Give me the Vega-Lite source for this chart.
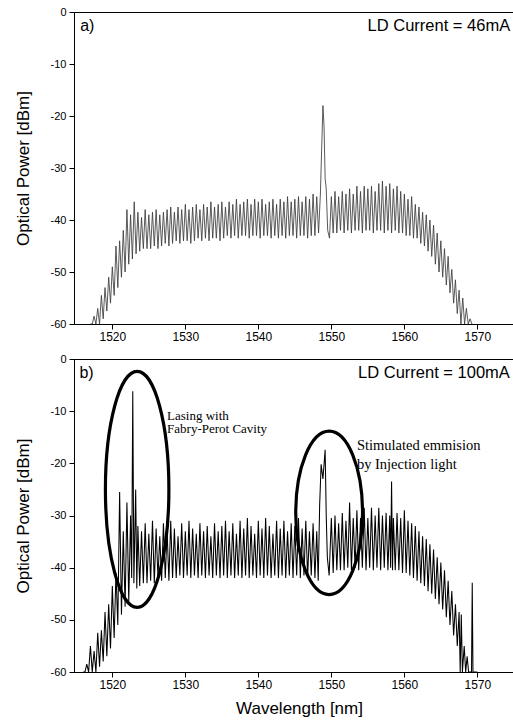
{
"$schema": "https://vega.github.io/schema/vega-lite/v6.json",
"padding": {"left": 13, "top": 5, "right": 0, "bottom": 0},
"spacing": 9,
"config": {
 "view": {"stroke": "black", "strokeWidth": 1},
 "axis": {"grid": false, "domainColor": "black", "tickColor": "black", "labelColor": "black", "titleColor": "black", "labelFont": "Liberation Sans", "titleFont": "Liberation Sans", "titleFontWeight": "normal", "titleFontSize": 17, "tickSize": 5, "domainWidth": 1}
},
"datasets": {
 "a": [
{"x":1517.0,"y":-60},{"x":1517.25,"y":-60},{"x":1517.5,"y":-58.5},{"x":1517.75,"y":-60},{"x":1518.0,"y":-57},{"x":1518.25,"y":-60},{"x":1518.5,"y":-54.5},{"x":1518.75,"y":-59},{"x":1519.0,"y":-53},{"x":1519.25,"y":-57.5},{"x":1519.5,"y":-51},{"x":1519.75,"y":-56},{"x":1520.0,"y":-49},{"x":1520.25,"y":-54.5},{"x":1520.5,"y":-45},{"x":1520.75,"y":-53},{"x":1521.0,"y":-44},{"x":1521.25,"y":-51},{"x":1521.5,"y":-42},{"x":1521.75,"y":-50},{"x":1522.0,"y":-38},{"x":1522.25,"y":-48.5},{"x":1522.5,"y":-39},{"x":1522.75,"y":-47.5},{"x":1523.0,"y":-36.5},{"x":1523.25,"y":-46.5},{"x":1523.5,"y":-38.5},{"x":1523.75,"y":-46},
{"x":1524.0,"y":-39.5},{"x":1524.25,"y":-45.5},{"x":1524.5,"y":-38},{"x":1524.75,"y":-45.5},{"x":1525.0,"y":-39},{"x":1525.25,"y":-45.5},{"x":1525.5,"y":-38.5},{"x":1525.75,"y":-45},{"x":1526.0,"y":-38},{"x":1526.25,"y":-45.5},{"x":1526.5,"y":-39},{"x":1526.75,"y":-45},{"x":1527.0,"y":-38.5},{"x":1527.25,"y":-44.5},{"x":1527.5,"y":-38},{"x":1527.75,"y":-45},{"x":1528.0,"y":-37.5},{"x":1528.25,"y":-44.5},{"x":1528.5,"y":-38.5},{"x":1528.75,"y":-44},{"x":1529.0,"y":-37.5},{"x":1529.25,"y":-44.5},{"x":1529.5,"y":-38},{"x":1529.75,"y":-44},
{"x":1530.0,"y":-37},{"x":1530.25,"y":-44},{"x":1530.5,"y":-38},{"x":1530.75,"y":-44.5},{"x":1531.0,"y":-37.5},{"x":1531.25,"y":-44},{"x":1531.5,"y":-37},{"x":1531.75,"y":-43.5},{"x":1532.0,"y":-38},{"x":1532.25,"y":-44},{"x":1532.5,"y":-37},{"x":1532.75,"y":-43.5},{"x":1533.0,"y":-37.5},{"x":1533.25,"y":-44},{"x":1533.5,"y":-36.5},{"x":1533.75,"y":-43.5},{"x":1534.0,"y":-37.5},{"x":1534.25,"y":-43.5},{"x":1534.5,"y":-37},{"x":1534.75,"y":-44},{"x":1535.0,"y":-36.5},{"x":1535.25,"y":-43.5},{"x":1535.5,"y":-37.5},{"x":1535.75,"y":-43},{"x":1536.0,"y":-36.5},{"x":1536.25,"y":-43.5},{"x":1536.5,"y":-37},{"x":1536.75,"y":-43},{"x":1537.0,"y":-36},{"x":1537.25,"y":-43.5},{"x":1537.5,"y":-37},{"x":1537.75,"y":-43},{"x":1538.0,"y":-36.5},{"x":1538.25,"y":-43},{"x":1538.5,"y":-36},{"x":1538.75,"y":-43.5},{"x":1539.0,"y":-37},{"x":1539.25,"y":-43},{"x":1539.5,"y":-36},{"x":1539.75,"y":-43},
{"x":1540.0,"y":-36.5},{"x":1540.25,"y":-43.5},{"x":1540.5,"y":-36},{"x":1540.75,"y":-43},{"x":1541.0,"y":-37},{"x":1541.25,"y":-43},{"x":1541.5,"y":-36.5},{"x":1541.75,"y":-43.5},{"x":1542.0,"y":-36},{"x":1542.25,"y":-43},{"x":1542.5,"y":-37},{"x":1542.75,"y":-43.5},{"x":1543.0,"y":-36},{"x":1543.25,"y":-43},{"x":1543.5,"y":-36.5},{"x":1543.75,"y":-43.5},{"x":1544.0,"y":-35.5},{"x":1544.25,"y":-43},{"x":1544.5,"y":-36.5},{"x":1544.75,"y":-43},{"x":1545.0,"y":-36},{"x":1545.25,"y":-43.5},{"x":1545.5,"y":-35.5},{"x":1545.75,"y":-43},{"x":1546.0,"y":-36.5},{"x":1546.25,"y":-43},{"x":1546.5,"y":-35.5},{"x":1546.75,"y":-43.5},{"x":1547.0,"y":-36},{"x":1547.25,"y":-43},{"x":1547.5,"y":-35},{"x":1547.75,"y":-43},{"x":1548.0,"y":-35.5},{"x":1548.25,"y":-42.5},
{"x":1548.5,"y":-35},{"x":1548.7,"y":-25},{"x":1548.85,"y":-18},{"x":1549.0,"y":-22},{"x":1549.15,"y":-32},{"x":1549.3,"y":-34},{"x":1549.5,"y":-42},{"x":1549.75,"y":-43.5},
{"x":1550.0,"y":-35.5},{"x":1550.25,"y":-42.5},{"x":1550.5,"y":-34.5},{"x":1550.75,"y":-42.5},{"x":1551.0,"y":-35.5},{"x":1551.25,"y":-42},{"x":1551.5,"y":-34.5},{"x":1551.75,"y":-42.5},{"x":1552.0,"y":-35},{"x":1552.25,"y":-42},{"x":1552.5,"y":-34},{"x":1552.75,"y":-42.5},{"x":1553.0,"y":-35},{"x":1553.25,"y":-42},{"x":1553.5,"y":-33.5},{"x":1553.75,"y":-42},{"x":1554.0,"y":-34.5},{"x":1554.25,"y":-42.5},{"x":1554.5,"y":-33.5},{"x":1554.75,"y":-42},{"x":1555.0,"y":-34},{"x":1555.25,"y":-42},{"x":1555.5,"y":-33.5},{"x":1555.75,"y":-42.5},{"x":1556.0,"y":-34.5},{"x":1556.25,"y":-42},{"x":1556.5,"y":-33},{"x":1556.75,"y":-42},{"x":1557.0,"y":-32.5},{"x":1557.25,"y":-42.5},{"x":1557.5,"y":-33.5},{"x":1557.75,"y":-42},{"x":1558.0,"y":-33},{"x":1558.25,"y":-42.5},{"x":1558.5,"y":-34},{"x":1558.75,"y":-42},{"x":1559.0,"y":-33.5},{"x":1559.25,"y":-42.5},{"x":1559.5,"y":-34.5},{"x":1559.75,"y":-42.5},
{"x":1560.0,"y":-35},{"x":1560.25,"y":-43},{"x":1560.5,"y":-36},{"x":1560.75,"y":-43},{"x":1561.0,"y":-35.5},{"x":1561.25,"y":-43.5},{"x":1561.5,"y":-37},{"x":1561.75,"y":-43.5},{"x":1562.0,"y":-37.5},{"x":1562.25,"y":-44.5},{"x":1562.5,"y":-38.5},{"x":1562.75,"y":-45},{"x":1563.0,"y":-39},{"x":1563.25,"y":-46},{"x":1563.5,"y":-40},{"x":1563.75,"y":-47},{"x":1564.0,"y":-41},{"x":1564.25,"y":-48.5},{"x":1564.5,"y":-42.5},{"x":1564.75,"y":-50},{"x":1565.0,"y":-44},{"x":1565.25,"y":-51},{"x":1565.5,"y":-45.5},{"x":1565.75,"y":-52.5},{"x":1566.0,"y":-47},{"x":1566.25,"y":-54},{"x":1566.5,"y":-49.5},{"x":1566.75,"y":-56},{"x":1567.0,"y":-51.5},{"x":1567.25,"y":-58},{"x":1567.5,"y":-53.5},{"x":1567.75,"y":-60},{"x":1568.0,"y":-55},{"x":1568.25,"y":-60},{"x":1568.5,"y":-57},{"x":1568.75,"y":-60},{"x":1569.0,"y":-59},{"x":1569.25,"y":-60}
 ],
 "b": [
{"x":1516.0,"y":-60},{"x":1516.25,"y":-60},{"x":1516.5,"y":-58.5},{"x":1516.75,"y":-60},{"x":1517.0,"y":-55},{"x":1517.25,"y":-60},{"x":1517.5,"y":-56},{"x":1517.75,"y":-60},{"x":1518.0,"y":-52.5},{"x":1518.25,"y":-59},{"x":1518.5,"y":-52},{"x":1518.75,"y":-58},{"x":1519.0,"y":-48.5},{"x":1519.25,"y":-57},{"x":1519.5,"y":-47},{"x":1519.75,"y":-55.5},{"x":1520.0,"y":-43.5},{"x":1520.25,"y":-53.5},{"x":1520.5,"y":-41},{"x":1520.75,"y":-51},{"x":1521.0,"y":-25.5},{"x":1521.25,"y":-49},{"x":1521.5,"y":-33},{"x":1521.75,"y":-47.5},{"x":1522.0,"y":-27.5},{"x":1522.25,"y":-46.5},{"x":1522.5,"y":-30},{"x":1522.65,"y":-42},{"x":1522.8,"y":-6.2},{"x":1522.95,"y":-43},{"x":1523.2,"y":-25},{"x":1523.35,"y":-44},{"x":1523.5,"y":-32},{"x":1523.75,"y":-43.5},
{"x":1524.0,"y":-33},{"x":1524.25,"y":-43},{"x":1524.5,"y":-31.5},{"x":1524.75,"y":-43},{"x":1525.0,"y":-33.5},{"x":1525.25,"y":-42.5},{"x":1525.5,"y":-31},{"x":1525.75,"y":-43},{"x":1526.0,"y":-32.5},{"x":1526.25,"y":-42},{"x":1526.5,"y":-34},{"x":1526.75,"y":-42.5},{"x":1527.0,"y":-31.5},{"x":1527.25,"y":-42},{"x":1527.5,"y":-33},{"x":1527.75,"y":-42.5},{"x":1528.0,"y":-31},{"x":1528.25,"y":-42},{"x":1528.5,"y":-32.5},{"x":1528.75,"y":-42},{"x":1529.0,"y":-34},{"x":1529.25,"y":-41.5},{"x":1529.5,"y":-31.5},{"x":1529.75,"y":-42},
{"x":1530.0,"y":-33},{"x":1530.25,"y":-41.5},{"x":1530.5,"y":-31},{"x":1530.75,"y":-42},{"x":1531.0,"y":-32.5},{"x":1531.25,"y":-41.5},{"x":1531.5,"y":-33.5},{"x":1531.75,"y":-42},{"x":1532.0,"y":-31.5},{"x":1532.25,"y":-41.5},{"x":1532.5,"y":-33},{"x":1532.75,"y":-42},{"x":1533.0,"y":-32},{"x":1533.25,"y":-41.5},{"x":1533.5,"y":-34},{"x":1533.75,"y":-42},{"x":1534.0,"y":-31.5},{"x":1534.25,"y":-41.5},{"x":1534.5,"y":-33},{"x":1534.75,"y":-42},{"x":1535.0,"y":-32},{"x":1535.25,"y":-41.5},{"x":1535.5,"y":-31},{"x":1535.75,"y":-42},{"x":1536.0,"y":-33},{"x":1536.25,"y":-41.5},{"x":1536.5,"y":-31.5},{"x":1536.75,"y":-42},{"x":1537.0,"y":-33.5},{"x":1537.25,"y":-41.5},{"x":1537.5,"y":-31},{"x":1537.75,"y":-42},{"x":1538.0,"y":-32.5},{"x":1538.25,"y":-41.5},{"x":1538.5,"y":-30.5},{"x":1538.75,"y":-42},{"x":1539.0,"y":-32},{"x":1539.25,"y":-41.5},{"x":1539.5,"y":-33.5},{"x":1539.75,"y":-42},
{"x":1540.0,"y":-31},{"x":1540.25,"y":-41.5},{"x":1540.5,"y":-32.5},{"x":1540.75,"y":-42},{"x":1541.0,"y":-30.5},{"x":1541.25,"y":-41.5},{"x":1541.5,"y":-32},{"x":1541.75,"y":-42},{"x":1542.0,"y":-33.5},{"x":1542.25,"y":-41.5},{"x":1542.5,"y":-31},{"x":1542.75,"y":-42},{"x":1543.0,"y":-32.5},{"x":1543.25,"y":-41.5},{"x":1543.5,"y":-31},{"x":1543.75,"y":-42},{"x":1544.0,"y":-33},{"x":1544.25,"y":-41.5},{"x":1544.5,"y":-31.5},{"x":1544.75,"y":-42},{"x":1545.0,"y":-32},{"x":1545.25,"y":-41.5},{"x":1545.5,"y":-30.5},{"x":1545.75,"y":-42},{"x":1546.0,"y":-32.5},{"x":1546.25,"y":-41.5},{"x":1546.5,"y":-31},{"x":1546.75,"y":-42},{"x":1547.0,"y":-33},{"x":1547.25,"y":-41.5},{"x":1547.5,"y":-31.5},{"x":1547.75,"y":-42},{"x":1548.0,"y":-33},{"x":1548.2,"y":-42.5},
{"x":1548.4,"y":-28},{"x":1548.6,"y":-20.2},{"x":1548.85,"y":-23},{"x":1549.15,"y":-17.4},{"x":1549.3,"y":-30},{"x":1549.45,"y":-38},{"x":1549.7,"y":-41.5},
{"x":1550.0,"y":-30.5},{"x":1550.25,"y":-41},{"x":1550.5,"y":-30},{"x":1550.75,"y":-40.5},{"x":1551.0,"y":-31.5},{"x":1551.25,"y":-40.5},{"x":1551.5,"y":-29.5},{"x":1551.75,"y":-40.5},{"x":1552.0,"y":-31},{"x":1552.25,"y":-40},{"x":1552.5,"y":-27.5},{"x":1552.75,"y":-40.5},{"x":1553.0,"y":-30.5},{"x":1553.25,"y":-40},{"x":1553.5,"y":-29},{"x":1553.75,"y":-40.5},{"x":1554.0,"y":-30.5},{"x":1554.25,"y":-40},{"x":1554.5,"y":-28.5},{"x":1554.75,"y":-40.5},{"x":1555.0,"y":-30.5},{"x":1555.25,"y":-40},{"x":1555.5,"y":-28.5},{"x":1555.75,"y":-40.5},{"x":1556.0,"y":-30},{"x":1556.25,"y":-40},{"x":1556.5,"y":-28.5},{"x":1556.75,"y":-40.5},{"x":1557.0,"y":-30},{"x":1557.25,"y":-40},{"x":1557.5,"y":-29.5},{"x":1557.75,"y":-40.5},{"x":1558.0,"y":-30},{"x":1558.12,"y":-40},{"x":1558.25,"y":-23.5},{"x":1558.38,"y":-40.5},{"x":1558.5,"y":-30.5},{"x":1558.75,"y":-40.5},{"x":1559.0,"y":-29.5},{"x":1559.25,"y":-40.5},{"x":1559.5,"y":-30.5},{"x":1559.75,"y":-41},
{"x":1560.0,"y":-29},{"x":1560.25,"y":-41},{"x":1560.5,"y":-31},{"x":1560.75,"y":-41.5},{"x":1561.0,"y":-31.5},{"x":1561.25,"y":-42},{"x":1561.5,"y":-32},{"x":1561.75,"y":-42.5},{"x":1562.0,"y":-33},{"x":1562.25,"y":-43},{"x":1562.5,"y":-34},{"x":1562.75,"y":-43.5},{"x":1563.0,"y":-34.5},{"x":1563.25,"y":-44.5},{"x":1563.5,"y":-35.5},{"x":1563.75,"y":-45},{"x":1564.0,"y":-36.5},{"x":1564.25,"y":-46},{"x":1564.5,"y":-38},{"x":1564.75,"y":-47},{"x":1565.0,"y":-39},{"x":1565.25,"y":-48},{"x":1565.5,"y":-40.5},{"x":1565.75,"y":-49.5},{"x":1566.0,"y":-42.5},{"x":1566.25,"y":-51},{"x":1566.5,"y":-44.5},{"x":1566.75,"y":-53},{"x":1567.0,"y":-47},{"x":1567.25,"y":-55},{"x":1567.5,"y":-48.5},{"x":1567.65,"y":-60},{"x":1567.8,"y":-49},{"x":1567.95,"y":-60},{"x":1568.2,"y":-55},{"x":1568.4,"y":-60},{"x":1568.6,"y":-57},{"x":1568.8,"y":-60},{"x":1569.2,"y":-60},{"x":1569.3,"y":-42.9},{"x":1569.4,"y":-60},{"x":1570.0,"y":-60}
 ],
 "txt": [
  {"p":"a","k":"lbl","t":"a)","x":1515.6,"y":-2.75},
  {"p":"a","k":"ld","t":"LD Current = 46mA","x":1574.5,"y":-2.6},
  {"p":"b","k":"lbl","t":"b)","x":1515.5,"y":-2.7},
  {"p":"b","k":"ld","t":"LD Current = 100mA","x":1574.45,"y":-2.7}
 ],
 "notes": [
  {"n":1,"t":["Lasing with","Fabry-Perot Cavity"],"x":1527.5,"y":-10.85},
  {"n":2,"t":["Stimulated emmision","by Injection light"],"x":1553.5,"y":-16.7}
 ],
 "ell": [
  {"e":1,"x":1523.4,"y":-25.0},
  {"e":2,"x":1549.7,"y":-29.5}
 ]
},
"vconcat": [
 {
  "width": 450, "height": 312,
  "encoding": {
   "x": {"field": "x", "type": "quantitative", "scale": {"domain": [1514.75, 1576.39], "nice": false, "zero": false},
         "axis": {"values": [1520,1530,1540,1550,1560,1570], "format": "d", "title": null, "labelFontSize": 12, "labelPadding": 2}},
   "y": {"field": "y", "type": "quantitative", "scale": {"domain": [-60, 0], "nice": false},
         "axis": {"values": [-60,-50,-40,-30,-20,-10,0], "labelExpr": "datum.value < 0 ? '-' + abs(datum.value) : '0'", "title": "Optical Power [dBm]", "labelFontSize": 11, "labelPadding": 3, "titlePadding": 18}}
  },
  "layer": [
   {"data": {"name": "a"}, "mark": {"type": "line", "color": "#3c3c3c", "strokeWidth": 0.85, "clip": true}},
   {"data": {"name": "txt"}, "transform": [{"filter": "datum.p == 'a' && datum.k == 'lbl'"}],
    "mark": {"type": "text", "align": "left", "baseline": "middle", "font": "Liberation Sans", "fontSize": 16, "color": "black"},
    "encoding": {"text": {"field": "t"}}},
   {"data": {"name": "txt"}, "transform": [{"filter": "datum.p == 'a' && datum.k == 'ld'"}],
    "mark": {"type": "text", "align": "right", "baseline": "middle", "font": "Liberation Sans", "fontSize": 16.5, "color": "black"},
    "encoding": {"text": {"field": "t"}}}
  ]
 },
 {
  "width": 450, "height": 313,
  "encoding": {
   "x": {"field": "x", "type": "quantitative", "scale": {"domain": [1514.75, 1576.39], "nice": false, "zero": false},
         "axis": {"values": [1520,1530,1540,1550,1560,1570], "format": "d", "title": "Wavelength [nm]", "labelFontSize": 12, "labelPadding": 2, "titlePadding": 10}},
   "y": {"field": "y", "type": "quantitative", "scale": {"domain": [-60, 0], "nice": false},
         "axis": {"values": [-60,-50,-40,-30,-20,-10,0], "labelExpr": "datum.value < 0 ? '-' + abs(datum.value) : '0'", "title": "Optical Power [dBm]", "labelFontSize": 11, "labelPadding": 3, "titlePadding": 18}}
  },
  "layer": [
   {"data": {"name": "b"}, "mark": {"type": "line", "color": "#000000", "strokeWidth": 1.05, "clip": true}},
   {"data": {"name": "ell"}, "transform": [{"filter": "datum.e == 1"}],
    "mark": {"type": "point", "shape": "M0,-1C0.1486,-1 0.269,-0.5523 0.269,0C0.269,0.5523 0.1486,1 0,1C-0.1486,1 -0.269,0.5523 -0.269,0C-0.269,-0.5523 -0.1486,-1 0,-1Z", "size": 55696, "filled": false, "stroke": "black", "strokeWidth": 3.2, "opacity": 1}},
   {"data": {"name": "ell"}, "transform": [{"filter": "datum.e == 2"}],
    "mark": {"type": "point", "shape": "M0,-1C0.2259,-1 0.409,-0.5523 0.409,0C0.409,0.5523 0.2259,1 0,1C-0.2259,1 -0.409,0.5523 -0.409,0C-0.409,-0.5523 -0.2259,-1 0,-1Z", "size": 26700, "filled": false, "stroke": "black", "strokeWidth": 3.2, "opacity": 1}},
   {"data": {"name": "txt"}, "transform": [{"filter": "datum.p == 'b' && datum.k == 'lbl'"}],
    "mark": {"type": "text", "align": "left", "baseline": "middle", "font": "Liberation Sans", "fontSize": 16, "color": "black"},
    "encoding": {"text": {"field": "t"}}},
   {"data": {"name": "txt"}, "transform": [{"filter": "datum.p == 'b' && datum.k == 'ld'"}],
    "mark": {"type": "text", "align": "right", "baseline": "middle", "font": "Liberation Sans", "fontSize": 16.5, "color": "black"},
    "encoding": {"text": {"field": "t"}}},
   {"data": {"name": "notes"}, "transform": [{"filter": "datum.n == 1"}],
    "mark": {"type": "text", "align": "left", "baseline": "middle", "font": "Liberation Serif", "fontSize": 13, "lineHeight": 13.5, "color": "black"},
    "encoding": {"text": {"field": "t"}}},
   {"data": {"name": "notes"}, "transform": [{"filter": "datum.n == 2"}],
    "mark": {"type": "text", "align": "left", "baseline": "middle", "font": "Liberation Serif", "fontSize": 14.5, "lineHeight": 18.4, "color": "black"},
    "encoding": {"text": {"field": "t"}}}
  ]
 }
]
}
